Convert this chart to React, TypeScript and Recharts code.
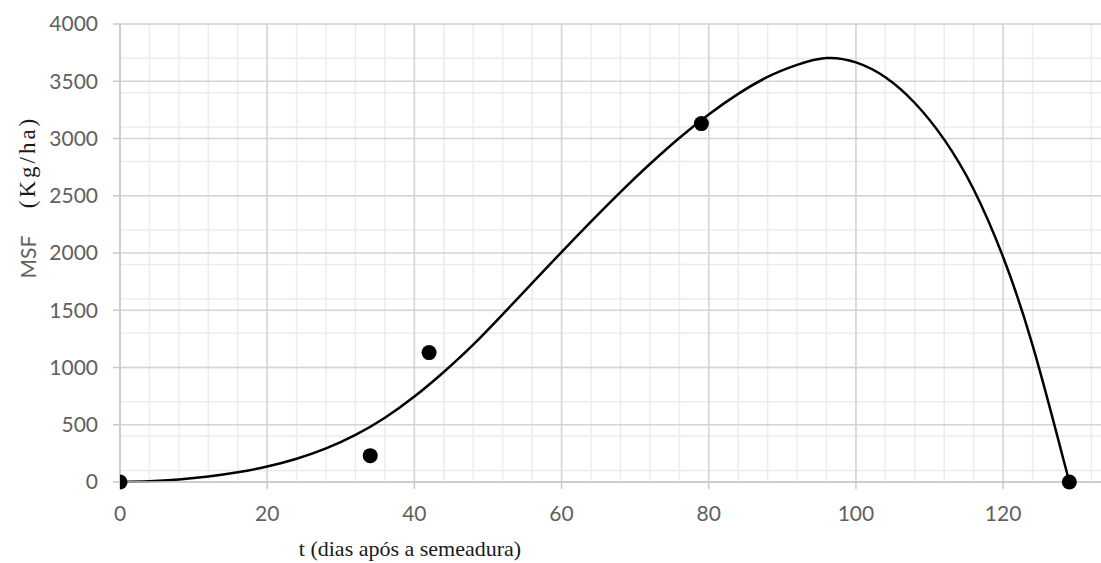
import React from 'react';
import { ComposedChart, Line, Scatter, XAxis, YAxis, CartesianGrid, Label } from 'recharts';

// fitted curve
const curveT = [0, 4, 8, 12, 16, 20, 24, 28, 32, 36, 40, 44, 48, 52, 56, 60, 64, 68, 72, 76, 80, 84, 88, 92, 96, 100, 104, 108, 112, 116, 120, 124, 128, 129];
const curveMSF = [0, 6, 22, 48, 85, 135, 203, 293, 411, 561, 746, 961, 1199, 1464, 1736, 2008, 2274, 2532, 2777, 3005, 3210, 3390, 3538, 3643, 3703, 3665, 3535, 3310, 2990, 2555, 1965, 1195, 245, 0];

// observed points
const obsT = [0, 34, 42, 79, 129];
const obsMSF = [0, 230, 1130, 3130, 0];

const xTicks = [0, 20, 40, 60, 80, 100, 120];
const yTicks = [0, 500, 1000, 1500, 2000, 2500, 3000, 3500, 4000];
const xMinor = Array.from({ length: 34 }, (_, i) => i * 4);
const yMinor = Array.from({ length: 41 }, (_, i) => i * 100);

const curveData = curveT.map((t, i) => ({ t, msf: curveMSF[i] }));
const obsData = obsT.map((t, i) => ({ t, msf: obsMSF[i] }));

const tickStyle = { fontSize: 21, fill: '#606060', fontFamily: 'Lato, sans-serif' };

const Dot = (props: any) => <circle cx={props.cx} cy={props.cy} r={7.5} fill="#000000" />;

export default function App() {
  return (
    <div style={{ position: 'absolute', left: 0, top: 0, width: 1101, height: 563, background: '#fff' }}>
      <ComposedChart width={1101} height={563} margin={{ top: 24, right: 0, bottom: 0, left: 0 }}>
        {/* minor grid */}
        <CartesianGrid stroke="#ececec" strokeWidth={1.5} horizontalValues={yMinor} verticalValues={xMinor} />
        {/* major grid */}
        <CartesianGrid stroke="#d4d4d4" strokeWidth={1.5} horizontalValues={yTicks} verticalValues={xTicks} />
        <XAxis
          type="number"
          dataKey="t"
          domain={[0, 133.3]}
          ticks={xTicks}
          height={81}
          stroke="#c8c8c8"
          strokeWidth={1.5}
          tickSize={7}
          tickMargin={17}
          tick={tickStyle}
          allowDataOverflow
        >
          <Label
            content={() => (
              <text x={410} y={556} textAnchor="middle" fontSize={22} fill="#1a1a1a" fontFamily="'Liberation Serif', serif">
                t (dias após a semeadura)
              </text>
            )}
          />
        </XAxis>
        <YAxis
          type="number"
          domain={[0, 4000]}
          ticks={yTicks}
          width={120}
          stroke="#c8c8c8"
          strokeWidth={1.5}
          tickSize={7}
          tickMargin={15}
          tick={tickStyle}
        >
          <Label
            content={() => (
              <g>
                <text x={27} y={257} transform="rotate(-90, 27, 257)" textAnchor="middle" dominantBaseline="central" fontSize={21} fill="#606060" fontFamily="Lato, sans-serif">
                  MSF
                </text>
                <text x={27} y={162} transform="rotate(-90, 27, 162)" textAnchor="middle" dominantBaseline="central" fontSize={23} fill="#1a1a1a" fontFamily="'Liberation Serif', serif" letterSpacing={3}>
                  (Kg/ha)
                </text>
              </g>
            )}
          />
        </YAxis>
        <Line
          data={curveData}
          dataKey="msf"
          type="natural"
          stroke="#000000"
          strokeWidth={2.5}
          dot={false}
          activeDot={false}
          isAnimationActive={false}
        />
        <Scatter data={obsData} dataKey="msf" shape={Dot} isAnimationActive={false} />
      </ComposedChart>
    </div>
  );
}
